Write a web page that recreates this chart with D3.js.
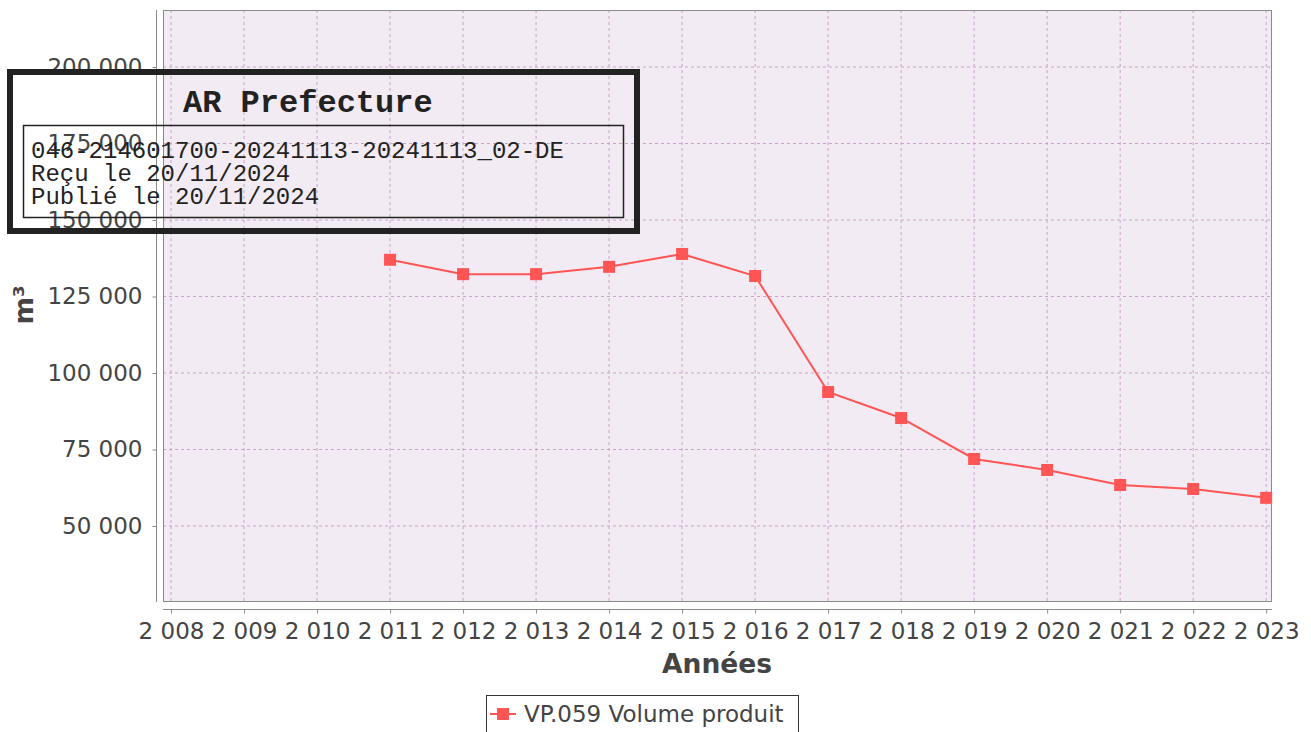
<!DOCTYPE html>
<html>
<head>
<meta charset="utf-8">
<script src="https://cdn.jsdelivr.net/npm/d3@7"></script>
<style>
  body { margin: 0; background: #fff; }
  svg { display: block; }
</style>
</head>
<body>
<div id="chart"></div>
<script>
// data
var years = [2011, 2012, 2013, 2014, 2015, 2016, 2017, 2018, 2019, 2020, 2021, 2022, 2023];
var volumes = [137000, 132300, 132300, 134700, 138900, 131700, 93800, 85300, 71900, 68300, 63400, 62100, 59200];
var xTicks = [2008, 2009, 2010, 2011, 2012, 2013, 2014, 2015, 2016, 2017, 2018, 2019, 2020, 2021, 2022, 2023];
var yTicks = [50000, 75000, 100000, 125000, 150000, 175000, 200000];
var seriesName = "VP.059 Volume produit";
var stampLines = ["046-214601700-20241113-20241113_02-DE", "Reçu le 20/11/2024", "Publié le 20/11/2024"];

var W = 1311, H = 732;
var plot = {left: 163, top: 10, right: 1272, bottom: 602};
var FONT = "'DejaVu Sans', sans-serif";
var MONO = "'Liberation Mono', 'DejaVu Sans Mono', monospace";

var svg = d3.select("#chart").append("svg")
    .attr("width", W)
    .attr("height", H)
    .style("font-family", FONT);

var x = d3.scaleLinear()
    .domain([2007.89, 2023.08])
    .range([plot.left, plot.right]);

var y = d3.scaleLinear()
    .domain([25160, 218630])
    .range([plot.bottom, plot.top]);

// french style thousands: "2 008"
var fmt = function(d) { return d3.format(",")(d).replace(/,/g, " "); };

// plot background
svg.append("rect")
    .attr("x", plot.left)
    .attr("y", plot.top)
    .attr("width", plot.right - plot.left)
    .attr("height", plot.bottom - plot.top)
    .attr("fill", "#f3ebf3");

// gridlines
svg.append("g").selectAll("line")
    .data(xTicks)
  .enter().append("line")
    .attr("x1", function(d) { return x(d); })
    .attr("x2", function(d) { return x(d); })
    .attr("y1", plot.top)
    .attr("y2", plot.bottom)
    .attr("stroke", "#c9a3cc")
    .attr("stroke-dasharray", "3,3");

svg.append("g").selectAll("line")
    .data(yTicks)
  .enter().append("line")
    .attr("x1", plot.left)
    .attr("x2", plot.right)
    .attr("y1", function(d) { return y(d); })
    .attr("y2", function(d) { return y(d); })
    .attr("stroke", "#c9a3cc")
    .attr("stroke-dasharray", "3,3");

// plot border
svg.append("rect")
    .attr("x", plot.left + 0.5)
    .attr("y", plot.top + 0.5)
    .attr("width", plot.right - plot.left - 1)
    .attr("height", plot.bottom - plot.top - 1)
    .attr("fill", "none")
    .attr("stroke", "#8a8a8a");

// y axis, set a bit left of the plot
var yAxis = svg.append("g")
    .attr("transform", "translate(156.5,0)")
    .call(d3.axisLeft(y).tickValues(yTicks).tickFormat(fmt).tickSize(4).tickPadding(10).tickSizeOuter(0));
yAxis.attr("font-family", null).attr("font-size", null);
yAxis.select(".domain").attr("stroke", "#8a8a8a").attr("d", "M0," + plot.top + "V" + plot.bottom);
yAxis.selectAll(".tick line").attr("stroke", "#8a8a8a");
yAxis.selectAll(".tick text").attr("fill", "#444").style("font-family", FONT).style("font-size", "23px");

// x axis, set a bit below the plot
var xAxis = svg.append("g")
    .attr("transform", "translate(0,609.5)")
    .call(d3.axisBottom(x).tickValues(xTicks).tickFormat(fmt).tickSize(4).tickPadding(9).tickSizeOuter(0));
xAxis.attr("font-family", null).attr("font-size", null);
xAxis.select(".domain").attr("stroke", "#8a8a8a").attr("d", "M" + plot.left + ",0H" + plot.right);
xAxis.selectAll(".tick line").attr("stroke", "#8a8a8a");
xAxis.selectAll(".tick text").attr("fill", "#444").style("font-family", FONT).style("font-size", "23px");

// axis titles
svg.append("text")
    .attr("x", 717)
    .attr("y", 673)
    .attr("text-anchor", "middle")
    .attr("fill", "#444")
    .style("font-size", "26.5px")
    .style("font-weight", "bold")
    .text("Années");

svg.append("text")
    .attr("transform", "translate(33,305) rotate(-90)")
    .attr("text-anchor", "middle")
    .attr("fill", "#444")
    .style("font-size", "26.5px")
    .style("font-weight", "bold")
    .text("m³");

// series
var pts = years.map(function(d, i) { return {year: d, value: volumes[i]}; });
var line = d3.line()
    .x(function(d) { return x(d.year); })
    .y(function(d) { return y(d.value); });

svg.append("path")
    .datum(pts)
    .attr("d", line)
    .attr("fill", "none")
    .attr("stroke", "#ff5555")
    .attr("stroke-width", 2);

svg.append("g").selectAll("rect")
    .data(pts)
  .enter().append("rect")
    .attr("x", function(d) { return x(d.year) - 6; })
    .attr("y", function(d) { return y(d.value) - 6; })
    .attr("width", 12)
    .attr("height", 12)
    .attr("fill", "#ff5555");

// legend
var legend = svg.append("g").attr("transform", "translate(486,695)");
legend.append("rect")
    .attr("x", 0.5)
    .attr("y", 0.5)
    .attr("width", 312)
    .attr("height", 44)
    .attr("fill", "#fff")
    .attr("stroke", "#333");
legend.append("line")
    .attr("x1", 4).attr("x2", 30)
    .attr("y1", 19).attr("y2", 19)
    .attr("stroke", "#ff5555")
    .attr("stroke-width", 2);
legend.append("rect")
    .attr("x", 11).attr("y", 13)
    .attr("width", 12).attr("height", 12)
    .attr("fill", "#ff5555");
legend.append("text")
    .attr("x", 38)
    .attr("y", 27)
    .attr("fill", "#444")
    .style("font-size", "23px")
    .text(seriesName);

// stamp on top
var stamp = svg.append("g");
stamp.append("rect")
    .attr("x", 10).attr("y", 72)
    .attr("width", 627).attr("height", 159)
    .attr("fill", "none")
    .attr("stroke", "#222")
    .attr("stroke-width", 6);
stamp.append("rect")
    .attr("x", 23.5).attr("y", 125.5)
    .attr("width", 600).attr("height", 92)
    .attr("fill", "none")
    .attr("stroke", "#222")
    .attr("stroke-width", 1.5);
stamp.append("text")
    .attr("x", 183)
    .attr("y", 112)
    .attr("fill", "#222")
    .style("font-family", MONO)
    .style("font-size", "32px")
    .style("font-weight", "bold")
    .text("AR Prefecture");
stamp.selectAll("text.line")
    .data(stampLines)
  .enter().append("text")
    .attr("class", "line")
    .attr("x", 31)
    .attr("y", function(d, i) { return 158 + i * 23; })
    .attr("fill", "#222")
    .style("font-family", MONO)
    .style("font-size", "24px")
    .text(function(d) { return d; });
</script>
</body>
</html>
